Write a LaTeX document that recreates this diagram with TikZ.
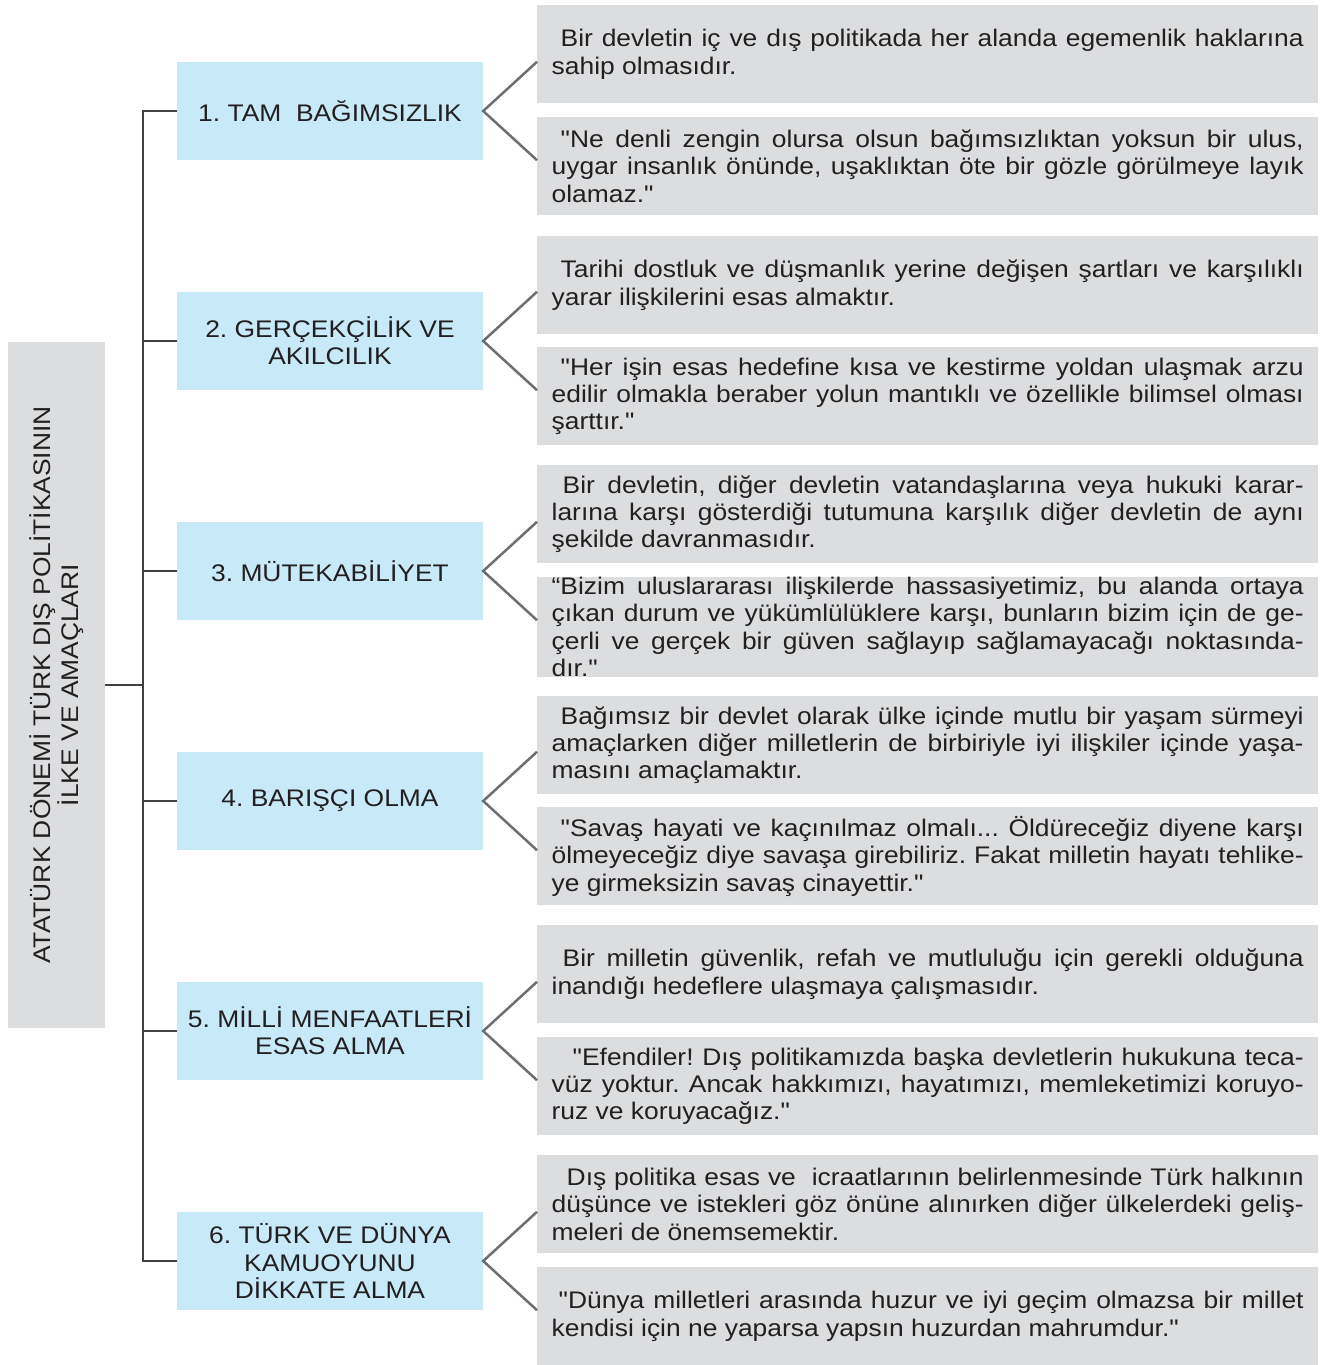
\documentclass[tikz,border=0pt]{standalone}
\usepackage{fontspec}
\setmainfont{Liberation Sans}[FakeStretch=1.10, Ligatures=TeXOff]
\definecolor{mavi}{RGB}{199,233,248}
\definecolor{gri}{RGB}{220,221,222}
\definecolor{cizgi}{RGB}{109,110,113}
\definecolor{yazi}{RGB}{35,31,32}
\usetikzlibrary{calc}
\frenchspacing

\begin{document}
\begin{tikzpicture}[x=1pt,y=-1pt,
    every node/.style={text=yazi, inner sep=0pt},
    baslik/.style={fill=gri, minimum width=686pt, minimum height=97pt, align=center, font=\fontsize{24}{27.3}\selectfont},
    ilke/.style={fill=mavi, minimum width=306pt, minimum height=98pt, align=center, font=\fontsize{24}{27.3}\selectfont},
    aciklama/.style={fill=gri, anchor=north west, minimum height=98pt, text width=752pt, inner xsep=14.5pt, align=justify, font=\fontsize{24}{27.3}\selectfont},
    kol/.style={line width=1.5pt, draw=black!75},
    dal/.style={line width=2.5pt, draw=cizgi}]
            \useasboundingbox (0,0) rectangle (1330,1365);
            % ana baslik
            \node[baslik, rotate=90] (title) at (56.5,685) {ATATÜRK DÖNEMİ TÜRK DIŞ POLİTİKASININ\\İLKE VE AMAÇLARI};
            % ilkeler
            \node[ilke] (b1) at (330,111) {1. TAM\ \ BAĞIMSIZLIK};
            \node[ilke] (b2) at (330,341) {2. GERÇEKÇİLİK VE\\AKILCILIK};
            \node[ilke] (b3) at (330,571) {3. MÜTEKABİLİYET};
            \node[ilke] (b4) at (330,801) {4. BARIŞÇI OLMA};
            \node[ilke] (b5) at (330,1031) {5. MİLLİ MENFAATLERİ\\ESAS ALMA};
            \node[ilke] (b6) at (330,1261) {6. TÜRK VE DÜNYA\\KAMUOYUNU\\DİKKATE ALMA};
            % aciklamalar
            \node[aciklama] (g1a) at (537,5) {\hspace*{9pt}Bir devletin iç ve dış politikada her alanda egemenlik haklarına\linebreak sahip olmasıdır.};
            \node[aciklama] (g1b) at (537,117) {\hspace*{9pt}"Ne denli zengin olursa olsun bağımsızlıktan yoksun bir ulus,\linebreak uygar insanlık önünde, uşaklıktan öte bir gözle görülmeye layık\linebreak olamaz."};
            \node[aciklama] (g2a) at (537,236) {\hspace*{9pt}Tarihi dostluk ve düşmanlık yerine değişen şartları ve karşılıklı\linebreak yarar ilişkilerini esas almaktır.};
            \node[aciklama] (g2b) at (537,347) {\hspace*{9pt}"Her işin esas hedefine kısa ve kestirme yoldan ulaşmak arzu\linebreak edilir olmakla beraber yolun mantıklı ve özellikle bilimsel olması\linebreak şarttır."};
            \node[aciklama] (g3a) at (537,465) {\hspace*{11pt}Bir devletin, diğer devletin vatandaşlarına veya hukuki karar-\linebreak larına karşı gösterdiği tutumuna karşılık diğer devletin de aynı\linebreak şekilde davranmasıdır.};
            \node[aciklama] (g3b) at (537,577) {“Bizim uluslararası ilişkilerde hassasiyetimiz, bu alanda ortaya\linebreak çıkan durum ve yükümlülüklere karşı, bunların bizim için de ge-\linebreak çerli ve gerçek bir güven sağlayıp sağlamayacağı noktasında-\linebreak dır."};
            \node[aciklama] (g4a) at (537,696) {\hspace*{9pt}Bağımsız bir devlet olarak ülke içinde mutlu bir yaşam sürmeyi\linebreak amaçlarken diğer milletlerin de birbiriyle iyi ilişkiler içinde yaşa-\linebreak masını amaçlamaktır.};
            \node[aciklama] (g4b) at (537,807) {\hspace*{9pt}"Savaş hayati ve kaçınılmaz olmalı... Öldüreceğiz diyene karşı\linebreak ölmeyeceğiz diye savaşa girebiliriz. Fakat milletin hayatı tehlike-\linebreak ye girmeksizin savaş cinayettir."};
            \node[aciklama] (g5a) at (537,925) {\hspace*{11pt}Bir milletin güvenlik, refah ve mutluluğu için gerekli olduğuna\linebreak inandığı hedeflere ulaşmaya çalışmasıdır.};
            \node[aciklama] (g5b) at (537,1037) {\hspace*{21pt}"Efendiler! Dış politikamızda başka devletlerin hukukuna teca-\linebreak vüz yoktur. Ancak hakkımızı, hayatımızı, memleketimizi koruyo-\linebreak ruz ve koruyacağız."};
            \node[aciklama] (g6a) at (537,1155) {\hspace*{15pt}Dış politika esas ve\ \ icraatlarının belirlenmesinde Türk halkının\linebreak düşünce ve istekleri göz önüne alınırken diğer ülkelerdeki geliş-\linebreak meleri de önemsemektir.};
            \node[aciklama] (g6b) at (537,1267) {\hspace*{7pt}"Dünya milletleri arasında huzur ve iyi geçim olmazsa bir millet\linebreak kendisi için ne yaparsa yapsın huzurdan mahrumdur."};
            % govde
            \coordinate (hub) at (143,685);
            \draw[kol] (title.south) -- (hub);
            \draw[kol] (b1.west) -| (hub) |- (b6.west);
            \draw[kol] (b2.west) -- (b2.west -| hub);
            \draw[kol] (b3.west) -- (b3.west -| hub);
            \draw[kol] (b4.west) -- (b4.west -| hub);
            \draw[kol] (b5.west) -- (b5.west -| hub);
            % dallar
            \draw[dal] (b1.north east -| g1a.west) -- (b1.east) -- (b1.south east -| g1b.west);
            \draw[dal] (b2.north east -| g2a.west) -- (b2.east) -- (b2.south east -| g2b.west);
            \draw[dal] (b3.north east -| g3a.west) -- (b3.east) -- (b3.south east -| g3b.west);
            \draw[dal] (b4.north east -| g4a.west) -- (b4.east) -- (b4.south east -| g4b.west);
            \draw[dal] (b5.north east -| g5a.west) -- (b5.east) -- (b5.south east -| g5b.west);
            \draw[dal] (b6.north east -| g6a.west) -- (b6.east) -- (b6.south east -| g6b.west);
        \end{tikzpicture}
\end{document}
